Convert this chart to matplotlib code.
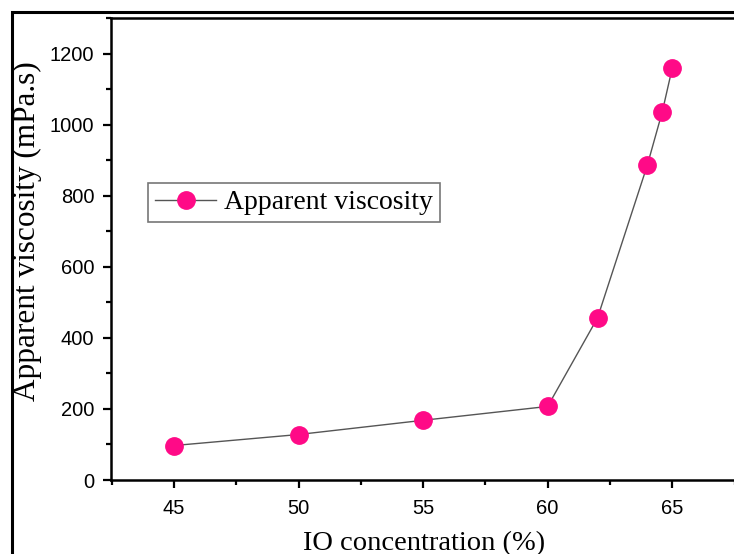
import matplotlib
matplotlib.use("Agg")
import matplotlib.pyplot as plt
from matplotlib.patches import Rectangle
from matplotlib.ticker import MultipleLocator

io_conc = [45, 50, 55, 60, 62, 64, 64.6, 65]
viscosity = [97, 128, 168, 207, 456, 886, 1036, 1159]
series_label = "Apparent viscosity"
x_label = "IO concentration (%)"
y_label = "Apparent viscosity (mPa.s)"

W, H = 734, 554
fig = plt.figure(figsize=(W/100, H/100), dpi=100)
ax = fig.add_axes([111/W, 1-480/H, (737-111)/W, (480-18)/H])

ax.plot(io_conc, viscosity, color="#555555", lw=1.0, marker="o", ms=12.5,
        markerfacecolor="#ff0a87", markeredgecolor="#ff0a87", label=series_label)

ax.set_xlim(42.47, 67.6)
ax.set_ylim(0, 1300)
ax.xaxis.set_major_locator(MultipleLocator(5))
ax.xaxis.set_minor_locator(MultipleLocator(2.5))
ax.yaxis.set_major_locator(MultipleLocator(200))
ax.yaxis.set_minor_locator(MultipleLocator(100))
ax.tick_params(which="major", direction="out", length=6, width=1.6, labelsize=14.5,
               colors="black", pad=6)
ax.tick_params(axis="x", which="major", pad=8)
ax.tick_params(which="minor", direction="out", length=3.5, width=1.6)
for lab in ax.get_xticklabels() + ax.get_yticklabels():
    lab.set_family("Liberation Sans")
for s in ax.spines.values():
    s.set_linewidth(1.8)

ax.set_xlabel(x_label, family="Liberation Serif", fontsize=20.5, labelpad=9)
ax.set_ylabel(y_label, family="Liberation Serif", fontsize=22.5)
ax.yaxis.set_label_coords((42 - 111)/626, (480-231)/462)

leg = ax.legend(loc="upper left", bbox_to_anchor=(37/626, (480-183)/462),
                prop={"family": "Liberation Serif", "size": 20}, fancybox=False,
                edgecolor="#777777", framealpha=1, handlelength=2.2, borderpad=0.25,
                handletextpad=0.3, borderaxespad=0)
leg.get_frame().set_linewidth(1.2)

fig.patches.append(Rectangle((12/W, -0.05), 1.1, 1-12/H+0.05, transform=fig.transFigure,
                             fill=False, edgecolor="black", lw=2.2, zorder=10))

fig.savefig("out.png", dpi=100)
